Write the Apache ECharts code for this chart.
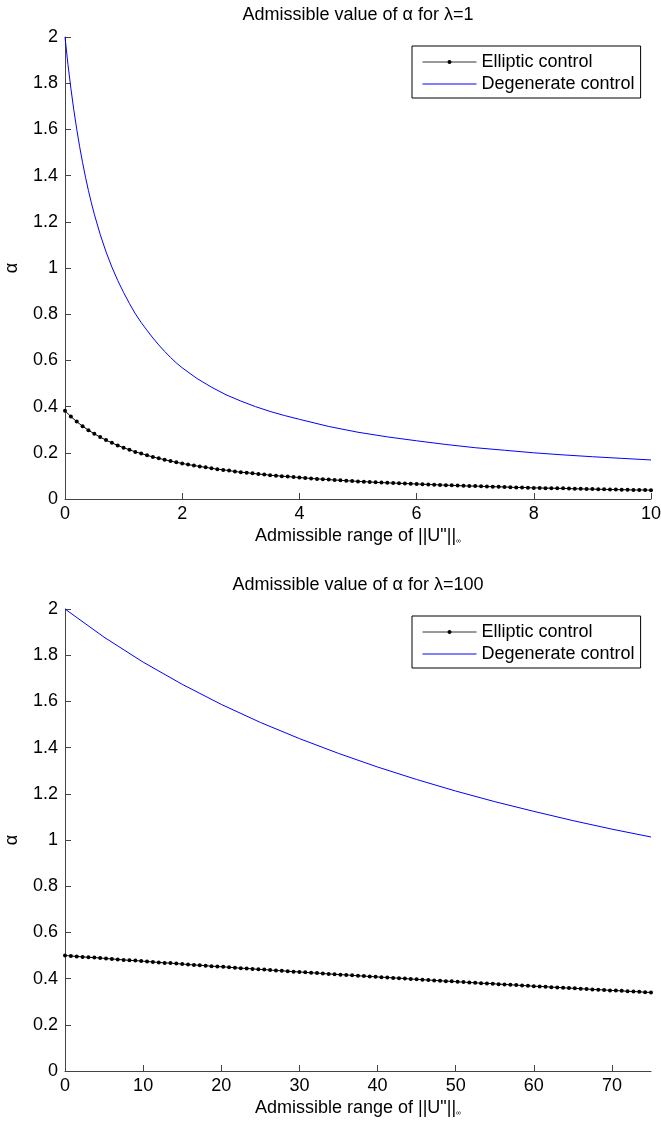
<!DOCTYPE html>
<html>
<head>
<meta charset="utf-8">
<title>Admissible value of α</title>
<script src="https://cdn.jsdelivr.net/npm/echarts@6/dist/echarts.min.js"></script>
<style>
  html, body { margin: 0; padding: 0; background: #fff; }
  #chart { width: 661px; height: 1122px; }
</style>
</head>
<body>
<div id="chart"></div>
<script>
// ---- λ = 1 ----
const topX = [0,0.1,0.2,0.3,0.4,0.5,0.6,0.7,0.8,0.9,
  1,1.1,1.2,1.3,1.4,1.5,1.6,1.7,1.8,1.9,
  2,2.1,2.2,2.3,2.4,2.5,2.6,2.7,2.8,2.9,
  3,3.1,3.2,3.3,3.4,3.5,3.6,3.7,3.8,3.9,
  4,4.1,4.2,4.3,4.4,4.5,4.6,4.7,4.8,4.9,
  5,5.1,5.2,5.3,5.4,5.5,5.6,5.7,5.8,5.9,
  6,6.1,6.2,6.3,6.4,6.5,6.6,6.7,6.8,6.9,
  7,7.1,7.2,7.3,7.4,7.5,7.6,7.7,7.8,7.9,
  8,8.1,8.2,8.3,8.4,8.5,8.6,8.7,8.8,8.9,
  9,9.1,9.2,9.3,9.4,9.5,9.6,9.7,9.8,9.9,
  10];
const topElliptic = [0.382,0.357,0.335,0.315,0.298,0.282,0.268,0.255,0.243,0.232,
  0.222,0.213,0.204,0.197,0.189,0.182,0.176,0.170,0.164,0.159,
  0.154,0.149,0.145,0.141,0.137,0.133,0.129,0.126,0.123,0.119,
  0.116,0.114,0.111,0.108,0.106,0.103,0.101,0.099,0.097,0.095,
  0.093,0.091,0.089,0.087,0.086,0.084,0.082,0.081,0.079,0.078,
  0.076,0.075,0.074,0.072,0.071,0.070,0.069,0.068,0.067,0.066,
  0.065,0.064,0.063,0.062,0.061,0.060,0.059,0.058,0.057,0.056,
  0.056,0.055,0.054,0.053,0.053,0.052,0.051,0.050,0.050,0.049,
  0.048,0.048,0.047,0.047,0.046,0.046,0.045,0.044,0.044,0.043,
  0.043,0.042,0.042,0.041,0.041,0.040,0.040,0.039,0.039,0.039,
  0.038];
const topDegX = [0,0.05,0.1,0.15,0.2,0.25,0.3,0.35,0.4,0.45,0.5,0.6,0.7,0.8,0.9,1,1.1,1.2,1.3,1.4,1.5,1.6,1.7,1.8,1.9,2,
  2.25,2.5,2.75,3,3.25,3.5,3.75,4,4.5,5,5.5,6,6.5,7,7.5,8,8.5,9,9.5,10];
const topDegenerate = [2.000,1.882,1.778,1.685,1.601,1.525,1.456,1.393,1.335,1.282,1.233,1.146,1.070,1.004,0.946,0.894,0.846,0.802,0.764,0.730,0.697,0.667,0.639,0.613,0.589,0.568,
  0.522,0.484,0.451,0.424,0.400,0.379,0.361,0.345,0.314,0.289,0.269,0.252,0.236,0.222,0.211,0.200,0.191,0.183,0.176,0.169];

// ---- λ = 100 ----
const botX = [0,0.75,1.5,2.25,3,3.75,4.5,5.25,6,6.75,
  7.5,8.25,9,9.75,10.5,11.25,12,12.75,13.5,14.25,
  15,15.75,16.5,17.25,18,18.75,19.5,20.25,21,21.75,
  22.5,23.25,24,24.75,25.5,26.25,27,27.75,28.5,29.25,
  30,30.75,31.5,32.25,33,33.75,34.5,35.25,36,36.75,
  37.5,38.25,39,39.75,40.5,41.25,42,42.75,43.5,44.25,
  45,45.75,46.5,47.25,48,48.75,49.5,50.25,51,51.75,
  52.5,53.25,54,54.75,55.5,56.25,57,57.75,58.5,59.25,
  60,60.75,61.5,62.25,63,63.75,64.5,65.25,66,66.75,
  67.5,68.25,69,69.75,70.5,71.25,72,72.75,73.5,74.25,
  75];
const botElliptic = [0.500,0.498,0.496,0.494,0.492,0.491,0.489,0.487,0.485,0.483,
  0.481,0.479,0.478,0.476,0.474,0.472,0.470,0.468,0.467,0.465,
  0.463,0.461,0.459,0.458,0.456,0.454,0.452,0.451,0.449,0.447,
  0.445,0.444,0.442,0.440,0.439,0.437,0.435,0.434,0.432,0.430,
  0.429,0.427,0.425,0.424,0.422,0.420,0.419,0.417,0.416,0.414,
  0.412,0.411,0.409,0.408,0.406,0.405,0.403,0.402,0.400,0.398,
  0.397,0.395,0.394,0.392,0.391,0.389,0.388,0.386,0.385,0.383,
  0.382,0.380,0.379,0.378,0.376,0.375,0.373,0.372,0.370,0.369,
  0.367,0.366,0.365,0.363,0.362,0.360,0.359,0.358,0.356,0.355,
  0.353,0.352,0.351,0.349,0.348,0.347,0.345,0.344,0.343,0.341,
  0.340];
const botDegX = [0,5,10,15,20,25,30,35,40,45,50,55,60,65,70,75];
const botDegenerate = [2.000,1.878,1.770,1.674,1.587,1.509,1.439,1.375,1.316,1.262,1.212,1.166,1.124,1.084,1.047,1.013];

// ---- text ----
const titles = ['Admissible value of α for λ=1', 'Admissible value of α for λ=100'];
const seriesNames = ['Elliptic control', 'Degenerate control'];
const yTicks = [0,0.2,0.4,0.6,0.8,1,1.2,1.4,1.6,1.8,2];
const botXTicks = [0,10,20,30,40,50,60,70];

const FONT = '"Liberation Sans", Arial, Helvetica, sans-serif';
const FS = 18;
const AXIS_COLOR = '#444';
const BLUE = '#0000ff';

const pair = (xs, ys) => xs.map((x, i) => [x, ys[i]]);

const grids = [
  { left: 65, top: 37, width: 586, height: 462, containLabel: false, outerBoundsMode: 'none' },
  { left: 65, top: 609, width: 586, height: 462, containLabel: false, outerBoundsMode: 'none' }
];

function xAxis(gridIndex, max, interval, custom) {
  const ax = {
    type: 'value', gridIndex, min: 0, max, interval,
    name: '{a|Admissible range of ||U"||}{s|∞}',
    nameLocation: 'middle', nameGap: 28,
    nameTextStyle: {
      color: '#000', fontFamily: FONT, fontSize: FS,
      rich: {
        a: { fontFamily: FONT, fontSize: FS, color: '#000' },
        s: { fontFamily: FONT, fontSize: 7, color: '#000', padding: [10, 0, 0, 0] }
      }
    },
    axisLine: { show: true, onZero: false, lineStyle: { color: AXIS_COLOR, width: 1 } },
    axisTick: { show: true, inside: true, length: 6, lineStyle: { color: AXIS_COLOR } },
    axisLabel: { color: '#000', fontFamily: FONT, fontSize: FS, margin: 6 },
    splitLine: { show: false }
  };
  if (custom) {
    ax.axisTick.customValues = custom;
    ax.axisLabel.customValues = custom;
  }
  return ax;
}

function yAxis(gridIndex) {
  return {
    type: 'value', gridIndex, min: 0, max: 2, interval: 0.2,
    name: 'α', nameLocation: 'middle', nameGap: 44, nameRotate: 90,
    nameTextStyle: { color: '#000', fontFamily: FONT, fontSize: FS },
    axisLine: { show: true, onZero: false, lineStyle: { color: AXIS_COLOR, width: 1 } },
    axisTick: { show: true, inside: true, length: 6, lineStyle: { color: AXIS_COLOR }, customValues: yTicks },
    axisLabel: { color: '#000', fontFamily: FONT, fontSize: FS, margin: 7, customValues: yTicks },
    splitLine: { show: false }
  };
}

function ellipticSeries(idx, data) {
  return {
    name: seriesNames[0], type: 'line', xAxisIndex: idx, yAxisIndex: idx,
    data, symbol: 'circle', symbolSize: 4, showSymbol: true, showAllSymbol: true,
    itemStyle: { color: '#000' }, lineStyle: { color: '#000', width: 1 },
    emphasis: { disabled: true }, z: 3
  };
}

function degenerateSeries(idx, data) {
  return {
    name: seriesNames[1], type: 'line', xAxisIndex: idx, yAxisIndex: idx,
    data, symbol: 'none', smooth: false,
    itemStyle: { color: BLUE }, lineStyle: { color: BLUE, width: 1 },
    emphasis: { disabled: true }, z: 2
  };
}

function legend(top) {
  return {
    orient: 'vertical', left: 412, top,
    backgroundColor: '#fff', borderColor: '#000', borderWidth: 1,
    padding: [7, 6, 5, 10],
    itemWidth: 54, itemHeight: 5, itemGap: 4,
    selectedMode: false,
    lineStyle: { width: 1 },
    textStyle: { color: '#000', fontFamily: FONT, fontSize: FS, lineHeight: 17 },
    data: [
      { name: seriesNames[0], itemStyle: { color: '#000' }, lineStyle: { color: '#333', width: 1 } },
      { name: seriesNames[1], icon: 'path://M0,0L0,0M0,2L54,2L54,3L0,3ZM0,5L0,5', itemStyle: { color: BLUE, borderWidth: 0 } }
    ]
  };
}

const chart = echarts.init(document.getElementById('chart'), null, { renderer: 'canvas' });
chart.setOption({
  animation: false,
  backgroundColor: '#fff',
  grid: grids,
  xAxis: [xAxis(0, 10, 2), xAxis(1, 75, 10, botXTicks)],
  yAxis: [yAxis(0), yAxis(1)],
  legend: [legend(46), legend(616)],
  graphic: [
    { type: 'text', x: 358, y: 15, style: { text: titles[0], fill: '#000', font: FS + 'px ' + FONT, align: 'center', verticalAlign: 'middle' } },
    { type: 'text', x: 358, y: 585, style: { text: titles[1], fill: '#000', font: FS + 'px ' + FONT, align: 'center', verticalAlign: 'middle' } }
  ],
  series: [
    ellipticSeries(0, pair(topX, topElliptic)),
    degenerateSeries(0, pair(topDegX, topDegenerate)),
    ellipticSeries(1, pair(botX, botElliptic)),
    degenerateSeries(1, pair(botDegX, botDegenerate))
  ]
});
</script>
</body>
</html>
